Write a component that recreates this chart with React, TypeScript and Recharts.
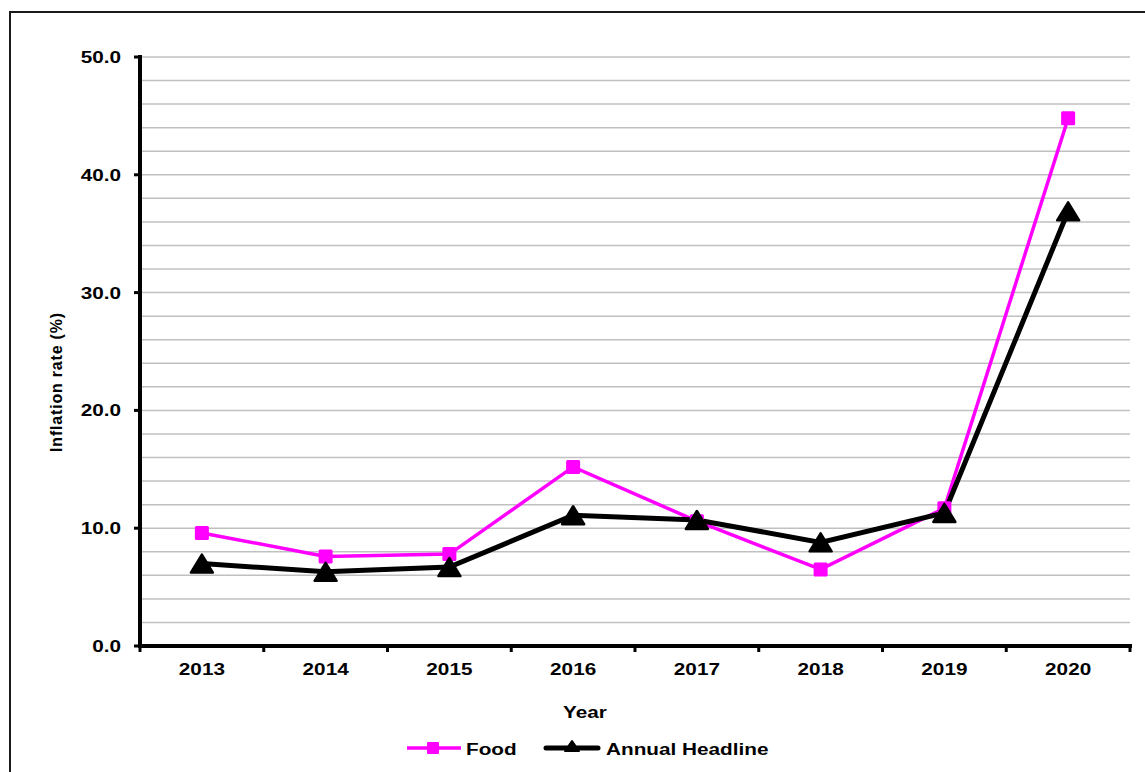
import { LineChart, Line, XAxis, YAxis, CartesianGrid } from "recharts";

const years = ["2013", "2014", "2015", "2016", "2017", "2018", "2019", "2020"];
const foodInflation = [9.6, 7.6, 7.8, 15.2, 10.6, 6.5, 11.7, 44.8];
const headlineInflation = [7.0, 6.3, 6.7, 11.1, 10.7, 8.8, 11.3, 36.9];
const yTicks = [0, 10, 20, 30, 40, 50];
const gridValues = [0, 2, 4, 6, 8, 10, 12, 14, 16, 18, 20, 22, 24, 26, 28, 30, 32, 34, 36, 38, 40, 42, 44, 46, 48, 50];

const data = years.map((year, i) => ({
    year,
    food: foodInflation[i],
    headline: headlineInflation[i],
}));

const W = 1145;
const H = 772;
const PLOT_W = 990;
const HALF_BAND = PLOT_W / years.length / 2;
const FONT = "'Liberation Sans', Arial, sans-serif";
const MAGENTA = "#ff00ff";

// Excel renders these labels wider than plain Arial bold, so stretch them a bit
const WideText = ({ x, y, anchor = "start", children }: any) => (
    <text
        transform={`translate(${x},${y}) scale(1.22,1)`}
        textAnchor={anchor}
        fontFamily={FONT}
        fontWeight="bold"
        fontSize={17}
        fill="#000"
    >
        {children}
    </text>
);

const XTick = (props: any) => {
    const { x, y, payload, index } = props;
    return (
        <g>
            <line x1={x + HALF_BAND} y1={y} x2={x + HALF_BAND} y2={y + 6} stroke="#000" strokeWidth={3} />
            {index === 0 && (
                <line x1={x - HALF_BAND} y1={y} x2={x - HALF_BAND} y2={y + 6} stroke="#000" strokeWidth={3} />
            )}
            <WideText x={x} y={y + 29} anchor="middle">
                {payload.value}
            </WideText>
        </g>
    );
};

const YTick = (props: any) => {
    const { x, y, payload } = props;
    return (
        <g>
            <line x1={x - 6} y1={y} x2={x} y2={y} stroke="#000" strokeWidth={3} />
            <WideText x={x - 19} y={y + 6} anchor="end">
                {payload.value.toFixed(1)}
            </WideText>
        </g>
    );
};

const SquareDot = (props: any) => {
    const { cx, cy } = props;
    return <rect x={cx - 7} y={cy - 7} width={14} height={14} rx={1.5} fill={MAGENTA} />;
};

const TriangleDot = (props: any) => {
    const { cx, cy } = props;
    return (
        <polygon
            points={`${cx},${cy - 9} ${cx + 11},${cy + 9} ${cx - 11},${cy + 9}`}
            fill="#000"
            stroke="#000"
            strokeWidth={2.5}
            strokeLinejoin="round"
        />
    );
};

export default function App() {
    return (
        <div style={{ position: "relative", width: W, height: H, overflow: "hidden", background: "#fff" }}>
            <style>{`body{margin:0}`}</style>
            <div
                style={{
                    position: "absolute",
                    left: 9,
                    top: 11,
                    width: 1200,
                    height: 820,
                    borderTop: "2px solid #1a1a1a",
                    borderLeft: "2px solid #1a1a1a",
                }}
            />
            <LineChart
                width={W}
                height={H}
                data={data}
                margin={{ top: 57, right: 15, bottom: 86, left: 0 }}
                style={{ position: "absolute", left: 0, top: 0 }}
            >
                <CartesianGrid vertical={false} horizontalValues={gridValues} stroke="#c0c0c0" strokeWidth={1.5} />
                <XAxis
                    dataKey="year"
                    height={40}
                    interval={0}
                    padding={{ left: HALF_BAND, right: HALF_BAND }}
                    axisLine={{ stroke: "#000", strokeWidth: 4, strokeLinecap: "square" }}
                    tickLine={false}
                    tickSize={0}
                    tickMargin={0}
                    tick={<XTick />}
                />
                <YAxis
                    width={140}
                    domain={[0, 50]}
                    ticks={yTicks}
                    interval={0}
                    axisLine={{ stroke: "#000", strokeWidth: 4, strokeLinecap: "square" }}
                    tickLine={false}
                    tickSize={0}
                    tickMargin={0}
                    tick={<YTick />}
                />
                <Line
                    dataKey="food"
                    stroke={MAGENTA}
                    strokeWidth={3.5}
                    dot={(p: any) => <SquareDot key={`f${p.index}`} {...p} />}
                    activeDot={false}
                    isAnimationActive={false}
                />
                <Line
                    dataKey="headline"
                    stroke="#000"
                    strokeWidth={5}
                    dot={(p: any) => <TriangleDot key={`h${p.index}`} {...p} />}
                    activeDot={false}
                    isAnimationActive={false}
                />
            </LineChart>
            <svg width={W} height={H} style={{ position: "absolute", left: 0, top: 0, pointerEvents: "none" }}>
                <text
                    transform="translate(62,382) rotate(-90)"
                    textAnchor="middle"
                    fontFamily={FONT}
                    fontWeight="bold"
                    fontSize={16}
                    letterSpacing={0.8}
                    fill="#000"
                >
                    Inflation rate (%)
                </text>
                <WideText x={585} y={718} anchor="middle">
                    Year
                </WideText>
                <g>
                    <line x1={407} y1={748} x2={461} y2={748} stroke={MAGENTA} strokeWidth={3.5} />
                    <rect x={427} y={742} width={12} height={12} rx={1} fill={MAGENTA} />
                    <WideText x={466} y={755}>Food</WideText>
                    <line x1={546} y1={748} x2={598} y2={748} stroke="#000" strokeWidth={5} strokeLinecap="round" />
                    <polygon
                        points="572,741 579,751 565,751"
                        fill="#000"
                        stroke="#000"
                        strokeWidth={2}
                        strokeLinejoin="round"
                    />
                    <WideText x={606} y={755}>Annual Headline</WideText>
                </g>
            </svg>
        </div>
    );
}
